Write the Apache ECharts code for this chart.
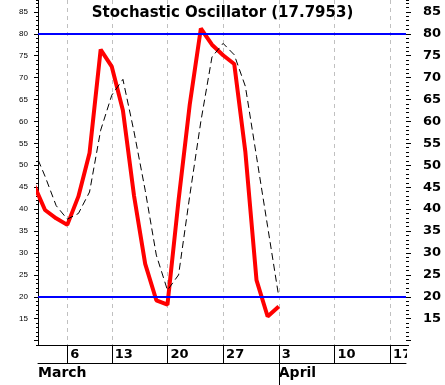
<!DOCTYPE html>
<html><head><meta charset="utf-8">
<script src="https://cdn.jsdelivr.net/npm/echarts@6/dist/echarts.min.js"></script>
<style>html,body{margin:0;padding:0;background:#fff}#c{width:445px;height:385px}</style>
</head><body><div id="c"></div>
<script>
// trading-day index (0 = 6 March)
const dayIndex = [-3,-2,-1,0,1,2,3,4,5,6,7,8,9,10,11,12,13,14,15,16,17,18,19];
const kValues  = [45.6,39.8,37.9,36.4,42.9,52.8,76.4,72.5,62.5,43.0,27.5,19.2,18.2,42.1,63.8,81.2,77.5,75.1,73.1,53.0,23.8,15.5,17.8];
const dValues  = [53.5,47.5,40.8,37.7,39.0,43.9,58.0,66.0,69.6,57.6,44.3,29.5,21.5,25.0,43.0,60.0,74.7,77.8,75.2,68.0,52.0,36.0,20.0];
const weekTickIndex  = [0,4,9,14,19,24,29];
const weekTickLabels = ['6','13','20','27','3','10','17'];
const monthStartIndex = [-3,19];
const monthLabels = ['March','April'];
const refLevels = [20,80];
const yTickValues  = [10,15,20,25,30,35,40,45,50,55,60,65,70,75,80,85];
const yLabelValues = [15,20,25,30,35,40,45,50,55,60,65,70,75,80,85];
const titleText = 'Stochastic Oscillator (17.7953)';

const xMin = -2.63, xMax = 30.43, yMin = 9, yMax = 87.7;
const monthPos = monthStartIndex.map(v => Math.max(v, xMin + 0.001));

const kSeries = dayIndex.map((x,i) => [x, kValues[i]]);
const dSeries = dayIndex.map((x,i) => [x, dValues[i]]);

const boldFont = 'DejaVu Sans';
function yAxisBase(pos){
  return {type:'value', min:yMin, max:yMax, position:pos, splitLine:{show:false}};
}

const chart = echarts.init(document.getElementById('c'), null, {renderer:'canvas'});
chart.setOption({
  animation:false,
  backgroundColor:'#fff',
  title:{text:titleText, left:'center', top:6, padding:0,
    textStyle:{fontFamily:boldFont, fontWeight:'bold', fontSize:15, color:'#000'}},
  grid:{left:38, right:39, top:0, bottom:40, containLabel:false},
  xAxis:[
    {type:'value', min:xMin, max:xMax, position:'bottom',
      axisLine:{show:true, onZero:false, lineStyle:{color:'#000', width:1}},
      axisTick:{show:true, customValues:weekTickIndex, length:18, inside:false, lineStyle:{color:'#000'}},
      axisLabel:{show:true, customValues:weekTickIndex, align:'left', padding:[0,0,0,3], margin:3,
        fontFamily:boldFont, fontWeight:'bold', fontSize:13, color:'#000',
        formatter:v => { const i = weekTickIndex.indexOf(Math.round(v)); return i>=0 ? weekTickLabels[i] : ''; }},
      splitLine:{show:true, lineStyle:{color:'#c0c0c0', type:[4,4], width:1}}
    },
    {type:'value', min:xMin, max:xMax, position:'bottom', offset:18,
      axisLine:{show:true, onZero:false, lineStyle:{color:'#000', width:1}},
      axisTick:{show:true, customValues:monthStartIndex.filter(v=>v>xMin), length:22, lineStyle:{color:'#000'}},
      axisLabel:{show:true, customValues:monthPos, align:'left', padding:[0,0,0,0], margin:3,
        fontFamily:boldFont, fontWeight:'bold', fontSize:14, color:'#000',
        formatter:v => { let b=0; monthPos.forEach((p,i)=>{ if (Math.abs(p-v)<0.01) b=i; }); return monthLabels[b]; }},
      splitLine:{show:false}
    }
  ],
  yAxis:[
    Object.assign(yAxisBase('left'), {
      axisLine:{show:true, onZero:false, lineStyle:{color:'#000'}},
      axisTick:{show:true, customValues:yTickValues, length:4, lineStyle:{color:'#000'}},
      axisLabel:{show:true, customValues:yLabelValues, margin:10, fontFamily:'Liberation Sans', fontSize:8, color:'#000'}
    }),
    Object.assign(yAxisBase('left'), {
      interval:1,
      axisLine:{show:false, onZero:false},
      axisTick:{show:true, length:2, lineStyle:{color:'#000'}},
      axisLabel:{show:false}
    }),
    Object.assign(yAxisBase('right'), {
      axisLine:{show:false, onZero:false},
      axisTick:{show:true, customValues:yTickValues, length:5, lineStyle:{color:'#000'}},
      axisLabel:{show:true, customValues:yLabelValues, margin:17, fontFamily:boldFont, fontWeight:'bold', fontSize:13, color:'#000'}
    }),
    Object.assign(yAxisBase('right'), {
      interval:1,
      axisLine:{show:false, onZero:false},
      axisTick:{show:true, length:3, lineStyle:{color:'#000'}},
      axisLabel:{show:false}
    })
  ],
  series:[
    {type:'line', data:[], z:1, silent:true,
      markLine:{silent:true, symbol:'none', label:{show:false},
        lineStyle:{color:'#0000ff', width:2, type:'solid'},
        data: refLevels.map(v => ({yAxis:v}))}},
    {type:'line', name:'%K', data:kSeries, showSymbol:false, z:3,
      lineStyle:{color:'#ff0000', width:4}, clip:true},
    {type:'line', name:'%D', data:dSeries, showSymbol:false, z:4,
      lineStyle:{color:'#000', width:1, type:[7,4]}, clip:true}
  ],
  graphic:[
    {type:'rect', shape:{x:407, y:346, width:15, height:17}, style:{fill:'#fff'}, z:100, silent:true}
  ]
});
</script></body></html>
